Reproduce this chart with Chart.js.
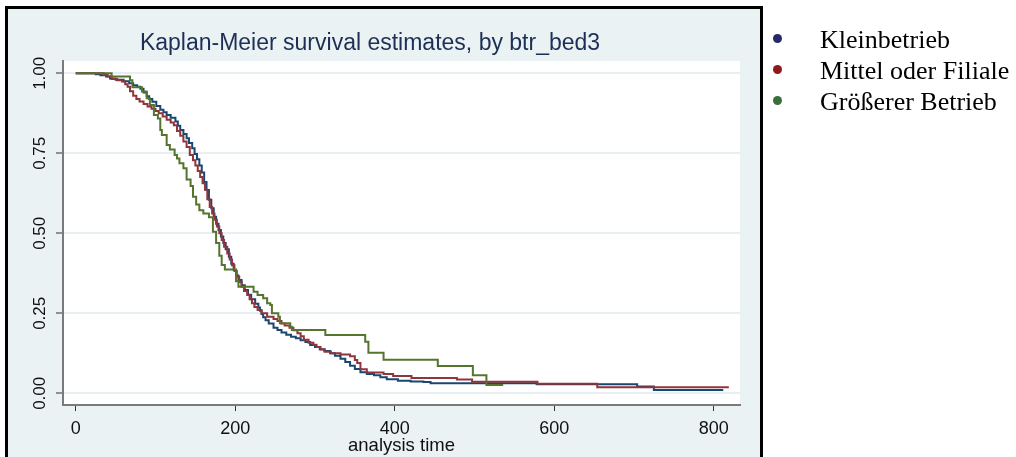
<!DOCTYPE html>
<html>
<head>
<meta charset="utf-8">
<script src="https://cdn.jsdelivr.net/npm/chart.js@4"></script>
<style>
  html, body { margin: 0; padding: 0; background: #fff; }
  #wrap { position: relative; width: 1016px; height: 457px; overflow: hidden; }
  #km { position: absolute; left: 0; top: 0; }
  #legend { position: absolute; left: 0; top: 0; font-family: "Liberation Serif", "Times New Roman", serif; font-size: 26px; line-height: 26px; }
  .item { position: absolute; left: 820px; white-space: nowrap; color: #000; }
  .dot { position: absolute; left: 773px; width: 9px; height: 9px; border-radius: 50%; }
</style>
</head>
<body>
<div id="wrap">
  <canvas id="km" width="1016" height="457"></canvas>
  <div id="legend"></div>
</div>
<script>
var groups = ['Kleinbetrieb', 'Mittel oder Filiale', 'Größerer Betrieb'];
var lineColors = ['#1a476f', '#90353b', '#55752f'];
var dotColors = ['#25286b', '#8c1a1f', '#3a6f3a'];
var xTicks = [0, 200, 400, 600, 800];
var yTicks = [0, 0.25, 0.5, 0.75, 1];

// Kleinbetrieb
var kleinTime = [0, 22, 25, 31, 38, 43, 50, 60, 67, 72, 77, 81, 85, 89, 92, 96, 101, 106, 110, 114,
    119, 125, 128, 131, 135, 139, 142, 146, 149, 152, 155, 158, 161, 164, 167, 170, 173, 176, 179, 182,
    185, 188, 192, 195, 198, 201, 204, 208, 212, 216, 220, 225, 229, 231, 233, 235, 238, 242, 248, 253,
    258, 264, 270, 276, 282, 288, 294, 300, 306, 312, 319, 325, 332, 338, 344, 350, 357, 365, 374, 382,
    390, 404, 420, 436, 445, 578, 704, 725, 812];
var kleinSurv = [1, 1, 0.997, 0.994, 0.99, 0.984, 0.98, 0.975, 0.969, 0.963, 0.958, 0.952, 0.94, 0.928, 0.92, 0.911, 0.898, 0.886, 0.878, 0.870,
    0.861, 0.849, 0.836, 0.823, 0.81, 0.797, 0.782, 0.766, 0.748, 0.731, 0.712, 0.69, 0.66, 0.635, 0.605, 0.578, 0.552, 0.53, 0.51, 0.49,
    0.47, 0.45, 0.427, 0.405, 0.385, 0.368, 0.354, 0.338, 0.323, 0.308, 0.294, 0.28, 0.268, 0.258, 0.248, 0.238, 0.228, 0.218, 0.205, 0.198,
    0.19, 0.183, 0.177, 0.172, 0.166, 0.16, 0.151, 0.145, 0.138, 0.132, 0.125, 0.117, 0.108, 0.098, 0.086, 0.076, 0.066, 0.06, 0.056, 0.05,
    0.044, 0.039, 0.037, 0.035, 0.031, 0.028, 0.021, 0.0103, 0.0103];

// Mittel oder Filiale
var mittelTime = [0, 35, 40, 45, 52, 58, 62, 65, 68, 72, 76, 80, 85, 90, 95, 100, 104, 109, 114, 119,
    123, 127, 131, 135, 139, 143, 147, 150, 153, 156, 159, 162, 165, 168, 171, 174, 177, 180, 183, 186,
    190, 193, 196, 199, 202, 205, 208, 211, 215, 218, 221, 224, 228, 233, 240, 248, 253, 258, 262, 268,
    273, 278, 282, 286, 292, 298, 302, 307, 312, 320, 332, 344, 350, 353, 357, 365, 386, 398, 421, 478,
    497, 579, 654, 819];
var mittelSurv = [1, 0.995, 0.99, 0.982, 0.978, 0.974, 0.966, 0.958, 0.944, 0.93, 0.92, 0.912, 0.904, 0.896, 0.889, 0.882, 0.875, 0.865, 0.855, 0.846,
    0.838, 0.82, 0.805, 0.787, 0.77, 0.745, 0.728, 0.712, 0.695, 0.676, 0.656, 0.636, 0.606, 0.582, 0.562, 0.542, 0.521, 0.5, 0.479, 0.458,
    0.437, 0.418, 0.4, 0.382, 0.364, 0.348, 0.333, 0.32, 0.307, 0.294, 0.281, 0.27, 0.26, 0.25, 0.239, 0.232, 0.226, 0.218, 0.212, 0.205,
    0.197, 0.188, 0.178, 0.167, 0.158, 0.152, 0.145, 0.137, 0.13, 0.125, 0.121, 0.116, 0.104, 0.095, 0.075, 0.065, 0.06, 0.054, 0.048, 0.043,
    0.036, 0.03, 0.019, 0.019];

// Größerer Betrieb
var grossTime = [0, 45, 68, 71, 83, 89, 93, 98, 103, 106, 108, 114, 118, 124, 127, 130, 135, 139, 144, 147,
    151, 155, 160, 167, 172, 176, 180, 183, 187, 201, 204, 223, 228, 235, 240, 244, 246, 254, 256, 269,
    271, 313, 363, 367, 386, 454, 498, 515, 536];
var grossSurv = [1, 0.99, 0.978, 0.956, 0.943, 0.922, 0.901, 0.87, 0.859, 0.823, 0.807, 0.776, 0.762, 0.745, 0.734, 0.719, 0.703, 0.668, 0.648, 0.614,
    0.59, 0.572, 0.562, 0.55, 0.505, 0.47, 0.43, 0.401, 0.387, 0.35, 0.333, 0.317, 0.307, 0.297, 0.281, 0.276, 0.25, 0.239, 0.219, 0.208,
    0.198, 0.182, 0.161, 0.127, 0.105, 0.085, 0.056, 0.026, 0.026];

function toPoints(t, s) {
    return t.map(function(v, i) { return {x: v, y: s[i]}; });
}

var series = [toPoints(kleinTime, kleinSurv), toPoints(mittelTime, mittelSurv), toPoints(grossTime, grossSurv)];

// gray Stata graph region with black frame, white plot region
var panelPlugin = {
    id: 'panel',
    beforeDraw: function(chart) {
        var ctx = chart.ctx, a = chart.chartArea;
        ctx.save();
        ctx.fillStyle = '#ffffff';
        ctx.fillRect(0, 0, chart.width, chart.height);
        ctx.fillStyle = '#eaf2f3';
        ctx.fillRect(8, 9, 752, 450);
        ctx.fillStyle = '#ffffff';
        ctx.fillRect(a.left, a.top, a.right - a.left, a.bottom - a.top);
        ctx.strokeStyle = '#000000';
        ctx.lineWidth = 3;
        ctx.beginPath();
        ctx.moveTo(6.5, 470);
        ctx.lineTo(6.5, 7.5);
        ctx.lineTo(761.5, 7.5);
        ctx.lineTo(761.5, 470);
        ctx.stroke();
        ctx.restore();
    }
};

var sans = 'Liberation Sans, Arial, Helvetica, sans-serif';

var kmChart = new Chart(document.getElementById('km').getContext('2d'), {
    type: 'line',
    data: {
        datasets: series.map(function(pts, i) {
            return {
                label: groups[i],
                data: pts,
                borderColor: lineColors[i],
                backgroundColor: lineColors[i],
                borderWidth: 2,
                pointRadius: 0,
                stepped: true,
                fill: false,
                order: 3 - i
            };
        })
    },
    options: {
        responsive: false,
        animation: false,
        events: [],
        layout: { padding: { left: 0, right: 276, top: 0, bottom: 0 } },
        plugins: {
            legend: { display: false },
            tooltip: { enabled: false },
            title: {
                display: true,
                text: 'Kaplan-Meier survival estimates, by btr_bed3',
                color: '#1e2f55',
                font: { family: sans, size: 23, weight: 'normal' },
                padding: { top: 29.7, bottom: 3.7 }
            }
        },
        scales: {
            x: {
                type: 'linear',
                min: -16,
                max: 833,
                afterBuildTicks: function(scale) {
                    scale.ticks = xTicks.map(function(v) { return {value: v}; });
                },
                afterFit: function(scale) {
                    scale.height = 52;
                    scale.paddingLeft = 0;
                    scale.paddingRight = 0;
                },
                grid: { drawOnChartArea: false, tickLength: 6, tickColor: '#333333', tickWidth: 1 },
                border: { display: true, color: '#7a7a7a', width: 2 },
                ticks: { color: '#111111', font: { family: sans, size: 18 }, padding: 7, maxRotation: 0, autoSkip: false },
                title: { display: true, text: 'analysis time', color: '#111111', font: { family: sans, size: 18.5 }, padding: { top: 0, bottom: 0 } }
            },
            y: {
                type: 'linear',
                min: -0.0366,
                max: 1.0384,
                afterBuildTicks: function(scale) {
                    scale.ticks = yTicks.map(function(v) { return {value: v}; });
                },
                afterFit: function(scale) {
                    scale.width = 63;
                    scale.paddingTop = 0;
                    scale.paddingBottom = 0;
                },
                grid: { color: '#e8eff2', lineWidth: 2, tickLength: 7, tickColor: '#333333', tickWidth: 1 },
                border: { display: true, color: '#7a7a7a', width: 2 },
                ticks: {
                    color: '#111111',
                    font: { family: sans, size: 17 },
                    minRotation: 90,
                    maxRotation: 90,
                    crossAlign: 'center',
                    padding: -1.3,
                    autoSkip: false,
                    callback: function(v) { return Number(v).toFixed(2); }
                }
            }
        }
    },
    plugins: [panelPlugin]
});

// legend on the right, outside the graph region
var legendBox = document.getElementById('legend');
groups.forEach(function(name, i) {
    var base = 48.5 + i * 31;
    var dot = document.createElement('span');
    dot.className = 'dot';
    dot.style.top = (base - 15) + 'px';
    dot.style.background = dotColors[i];
    legendBox.appendChild(dot);
    var txt = document.createElement('span');
    txt.className = 'item';
    txt.style.top = (base - 21.8) + 'px';
    txt.textContent = name;
    legendBox.appendChild(txt);
});
</script>
</body>
</html>
